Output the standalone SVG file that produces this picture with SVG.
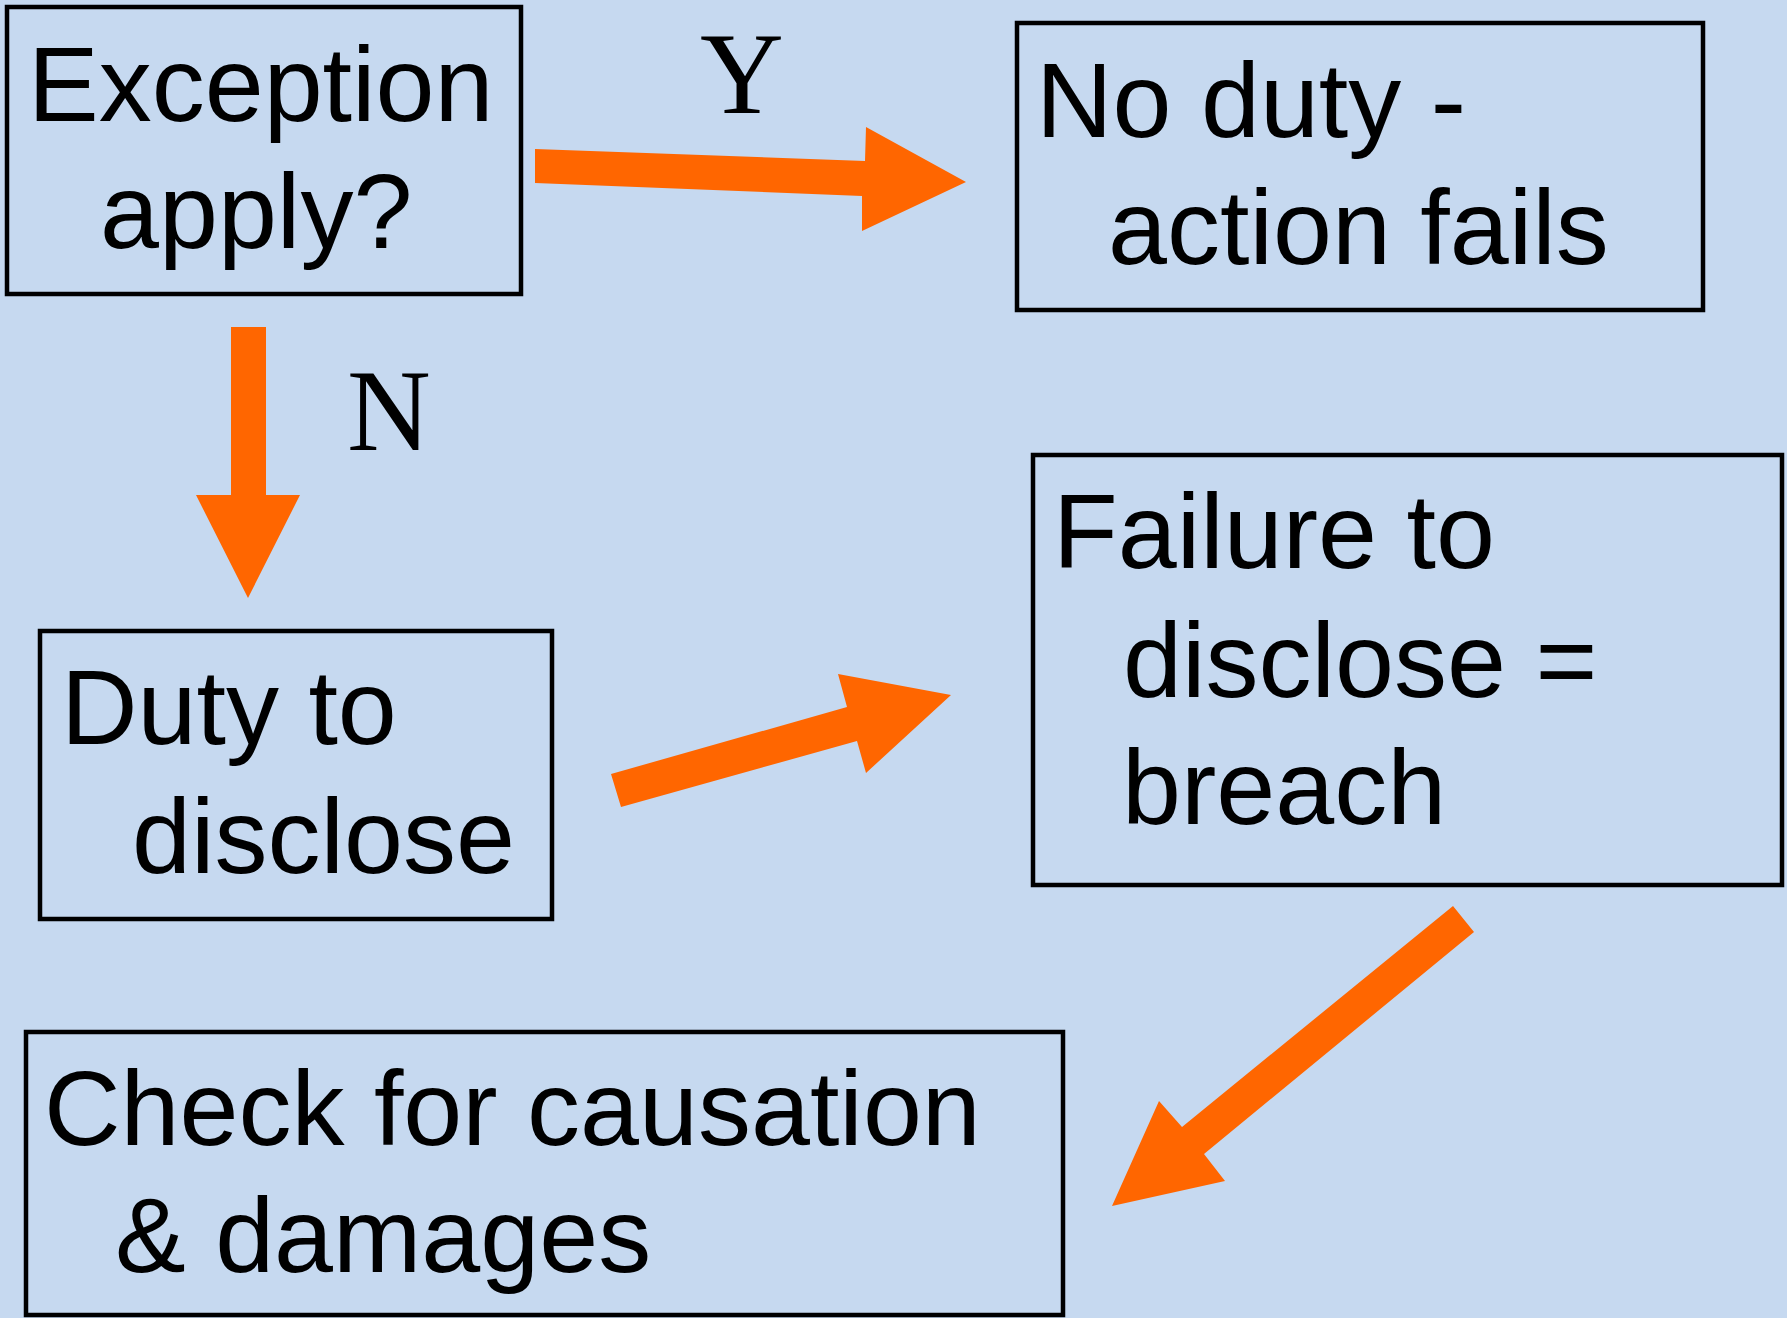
<svg xmlns="http://www.w3.org/2000/svg" width="1787" height="1318" viewBox="0 0 1787 1318">
<style>
.box{fill:#C6D9F0;stroke:#000;stroke-width:4.5}
.t{font-family:"Liberation Sans",Arial,sans-serif;font-size:106px;fill:#000}
.lbl{font-family:"Liberation Serif","Times New Roman",serif;font-size:116px;fill:#000;text-anchor:middle}
.arr{fill:#FF6600}
</style>
<rect x="0" y="0" width="1787" height="1318" fill="#C6D9F0"/>
<g id="connectors">
<polygon class="arr" points="535,149 865,161 866,127 966,182 862,231 862,196 535,183"/>
<polygon class="arr" points="231,327 266,327 266,495 300,495 248,598 196,495 231,495"/>
<polygon class="arr" points="611,774 847,707 838,674 951,695 866,773 857,741 621,807"/>
<polygon class="arr" points="1453,906 1474,932 1204,1154 1225,1181 1112,1206 1159,1101 1182,1127"/>
<text class="lbl" x="742" y="113">Y</text>
<text class="lbl" x="389" y="450">N</text>
</g>
<g id="exception">
<rect class="box" x="7" y="7" width="514" height="287"/>
<text class="t" x="28" y="121">Exception</text>
<text class="t" x="100" y="248">apply?</text>
</g>
<g id="noduty">
<rect class="box" x="1017" y="23" width="686" height="287"/>
<text class="t" x="1036" y="137">No duty -</text>
<text class="t" x="1108" y="264">action fails</text>
</g>
<g id="duty">
<rect class="box" x="40" y="631" width="512" height="288"/>
<text class="t" x="61" y="744">Duty to</text>
<text class="t" x="132" y="873">disclose</text>
</g>
<g id="failure">
<rect class="box" x="1033" y="455" width="749" height="430"/>
<text class="t" x="1053" y="568">Failure to</text>
<text class="t" x="1123" y="697">disclose =</text>
<text class="t" x="1122" y="824">breach</text>
</g>
<g id="check">
<rect class="box" x="26" y="1032" width="1037" height="283"/>
<text class="t" x="44" y="1145">Check for causation</text>
<text class="t" x="115" y="1272">&amp; damages</text>
</g>
</svg>
